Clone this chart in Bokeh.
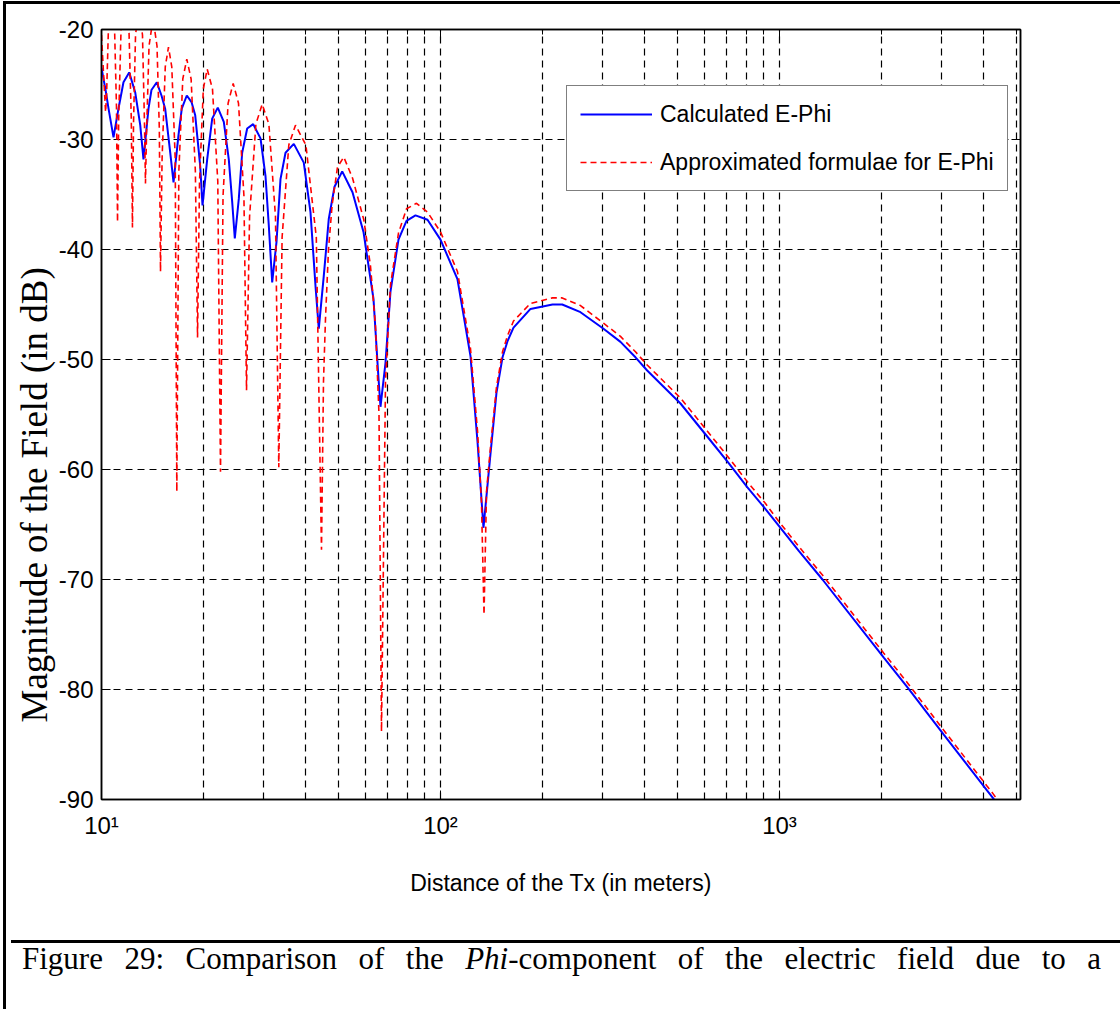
from bokeh.plotting import figure
from bokeh.layouts import column
from bokeh.models import (FixedTicker, LogAxis, LinearAxis, Legend, LegendItem,
                          Range1d, Title, Div)
from bokeh.embed import file_html
from bokeh.resources import INLINE

# ---------------- data ----------------
calc_dist = [10.00, 10.28, 10.49, 10.85, 11.22, 11.61, 12.07, 12.57, 13.01, 13.30,
             13.76, 14.04, 14.56, 15.03, 15.41, 15.95, 16.31, 16.87, 17.25, 17.85,
             18.43, 18.90, 19.55, 19.86, 20.50, 21.21, 22.03, 22.95, 23.74, 24.30,
             24.73, 25.41, 26.00, 26.90, 28.02, 29.45, 30.46, 31.15, 31.88, 32.83,
             33.73, 34.90, 36.92, 39.51, 41.35, 42.78, 43.75, 45.26, 46.83, 48.68,
             51.29, 55.01, 59.27, 63.44, 65.63, 66.53, 68.83, 71.21, 75.18, 79.38,
             84.38, 91.55, 100.0, 112.2, 122.6, 128.6, 133.9, 140.4, 146.3, 152.4,
             157.8, 164.2, 184.3, 214.0, 228.6, 258.8, 302.6, 339.6, 376.0, 407.1,
             510.5, 612.1, 707.2, 803.2, 909.4, 1000.0, 1140.0, 1339.0, 2031.0, 2386.0,
             3052.0, 4099.0, 4249.0, 4487.0]
calc_db = [-23.5, -25.5, -27.2, -29.8, -27.2, -24.8, -23.9, -25.7, -28.7, -31.8,
           -27.2, -25.5, -24.8, -26.0, -27.2, -31.2, -33.9, -29.6, -27.2, -26.0,
           -26.6, -27.8, -32.4, -36.0, -31.8, -28.1, -27.1, -28.4, -31.8, -35.7,
           -39.0, -35.4, -31.2, -29.0, -28.6, -29.9, -33.3, -37.8, -43.0, -39.3,
           -33.6, -31.2, -30.4, -32.1, -36.6, -43.3, -47.2, -42.4, -37.2, -34.3,
           -32.9, -34.8, -38.4, -44.5, -51.7, -54.3, -50.3, -43.8, -39.1, -37.4,
           -36.9, -37.3, -39.1, -42.7, -49.7, -57.5, -65.3, -58.6, -53.0, -49.8,
           -48.3, -47.1, -45.4, -45.0, -45.0, -45.7, -47.2, -48.4, -49.8, -51.0,
           -54.0, -57.0, -59.4, -61.6, -63.6, -65.2, -67.4, -70.0, -77.1, -79.8,
           -84.1, -89.2, -89.8, -90.8]

approx_dist = [10.00, 10.28, 10.35, 10.49, 10.70, 10.92, 11.07, 11.15, 11.24, 11.42,
               11.73, 12.05, 12.24, 12.34, 12.43, 12.60, 12.90, 13.21, 13.39, 13.48,
               13.59, 13.81, 14.19, 14.58, 14.81, 14.93, 15.09, 15.42, 15.76, 16.12,
               16.50, 16.68, 16.91, 17.37, 17.85, 18.38, 18.92, 19.20, 19.46, 19.97,
               20.50, 21.25, 22.03, 22.44, 22.83, 23.63, 24.46, 25.36, 26.31, 26.78,
               27.34, 28.54, 29.79, 31.17, 32.60, 33.34, 34.10, 35.69, 37.35, 40.08,
               43.02, 44.56, 45.17, 45.79, 46.73, 47.92, 49.68, 51.85, 55.01, 59.40,
               62.16, 64.31, 65.86, 66.98, 68.83, 71.21, 75.18, 79.38, 84.96, 91.55,
               100.0, 112.2, 122.6, 128.6, 132.1, 134.4, 136.7, 140.4, 146.3, 152.4,
               157.8, 164.2, 184.3, 214.0, 228.6, 258.8, 302.6, 339.6, 376.0, 407.1,
               510.5, 612.1, 707.2, 803.2, 909.4, 1000.0, 1140.0, 1339.0, 2031.0, 2386.0,
               3052.0, 4099.0, 4249.0, 4487.0]
approx_db = [-20.5, -27.5, -26.0, -19.5, -17.0, -19.5, -27.0, -37.5, -28.0, -20.0,
             -17.5, -20.0, -28.0, -38.0, -28.5, -20.5, -18.0, -20.5, -28.5, -34.0,
             -29.0, -21.5, -19.0, -21.5, -29.0, -42.0, -31.8, -23.4, -21.6, -23.4,
             -31.8, -62.0, -32.9, -24.5, -22.7, -24.5, -32.9, -48.0, -33.8, -25.4,
             -23.6, -25.4, -33.8, -60.2, -35.1, -26.7, -24.9, -26.7, -35.1, -52.8,
             -37.0, -28.6, -26.8, -28.6, -37.0, -59.8, -38.9, -30.5, -28.7, -30.5,
             -38.9, -67.3, -52.0, -46.3, -40.0, -35.9, -32.5, -31.6, -33.5, -37.3,
             -41.5, -47.0, -55.0, -83.8, -52.0, -43.2, -38.5, -36.3, -35.8, -36.6,
             -38.4, -42.0, -49.0, -56.5, -63.0, -73.2, -62.0, -58.0, -52.5, -49.3,
             -47.8, -46.5, -44.9, -44.4, -44.4, -45.1, -46.7, -47.9, -49.3, -50.5,
             -53.5, -56.5, -58.9, -61.1, -63.1, -64.8, -67.0, -69.6, -76.7, -79.4,
             -83.7, -88.8, -89.4, -90.4]

x_major_ticks = [10, 100, 1000]
x_minor_ticks = [20, 30, 40, 50, 60, 70, 80, 90,
                 200, 300, 400, 500, 600, 700, 800, 900,
                 2000, 3000, 4000, 5000]
x_tick_labels = {10: "10\u00b9", 100: "10\u00b2", 1000: "10\u00b3"}
y_ticks = [-90, -80, -70, -60, -50, -40, -30, -20]
y_tick_labels = {-90: "-90", -80: "-80", -70: "-70", -60: "-60",
                 -50: "-50", -40: "-40", -30: "-30", -20: "-20"}

series_names = ["Calculated E-Phi", "Approximated formulae for E-Phi"]
x_title = "Distance of the Tx (in meters)"
y_title = "Magnitude of the Field (in dB)"
caption_before = "Figure 29: Comparison of the"
caption_italic = "Phi"
caption_after = "-component of the electric field due to a"

# ---------------- figure ----------------
SANS = "Liberation Sans"
SERIF = "Liberation Serif"

PAGE_X, PAGE_Y = 6, 4                 # where the figure canvas starts on the page
FL, FR = 101 - PAGE_X, 100
FT = 29 - PAGE_Y
FH = 770
FW = 919
W = FL + FW + FR                      # 1114
H = 935 - PAGE_Y                      # figure ends at the caption rule
FB = H - FT - FH

p = figure(width=W, height=H, x_axis_type="log",
           x_range=Range1d(10, 5140), y_range=Range1d(-90, -20),
           output_backend="svg", toolbar_location=None,
           min_border_left=FL, min_border_right=FR, min_border_top=FT,
           min_border_bottom=FB)
p.background_fill_color = "white"
p.border_fill_color = "white"
p.outline_line_color = "black"
p.outline_line_width = 1.5

xt = FixedTicker(ticks=x_major_ticks, minor_ticks=x_minor_ticks)
yt = FixedTicker(ticks=y_ticks, minor_ticks=[])

def style_axis(ax, labels=True):
    ax.major_tick_in = 9
    ax.major_tick_out = 0
    ax.minor_tick_in = 5
    ax.minor_tick_out = 0
    ax.axis_line_color = "black"
    ax.axis_line_width = 1.5
    ax.major_tick_line_color = "black"
    ax.minor_tick_line_color = "black"
    ax.major_label_text_font = SANS
    if labels:
        ax.major_label_text_color = "black"
        ax.major_label_text_font_size = "24px"
    else:
        ax.major_label_text_alpha = 0
        ax.major_label_text_font_size = "2px"
        ax.major_label_standoff = 0
    ax.axis_label_text_font = SANS
    ax.axis_label_text_font_style = "normal"

xa = p.xaxis[0]
xa.ticker = xt
style_axis(xa)
xa.major_label_overrides = x_tick_labels
xa.major_label_standoff = 12
xa.axis_label = x_title
xa.axis_label_text_font_size = "23px"
xa.axis_label_text_color = "black"
xa.axis_label_standoff = 28

ya = p.yaxis[0]
ya.ticker = yt
style_axis(ya)
ya.major_label_overrides = y_tick_labels
ya.major_label_standoff = 8

top_ax = LogAxis(ticker=xt)
style_axis(top_ax, labels=False)
p.add_layout(top_ax, "above")
right_ax = LinearAxis(ticker=yt)
style_axis(right_ax, labels=False)
p.add_layout(right_ax, "right")

for g, t in ((p.xgrid[0], xt), (p.ygrid[0], yt)):
    g.ticker = t
    g.grid_line_color = "black"
    g.grid_line_dash = "7 5"
    g.grid_line_width = 1.2
    g.minor_grid_line_color = "black"
    g.minor_grid_line_dash = "7 5"
    g.minor_grid_line_width = 1.2

r_calc = p.line(calc_dist, calc_db, line_color="#0000ff", line_width=2)
r_appr = p.line(approx_dist, approx_db, line_color="#ff0000", line_width=1.6,
                line_dash="6 4")

legend = Legend(items=[LegendItem(label=series_names[0], renderers=[r_calc]),
                       LegendItem(label=series_names[1], renderers=[r_appr])],
                location=(566 - 101, 799 - 191))
legend.label_text_font = SANS
legend.label_text_font_size = "23px"
legend.label_text_color = "black"
legend.glyph_width = 72
legend.glyph_height = 30
legend.label_height = 30
legend.label_standoff = 8
legend.spacing = 18
legend.padding = 13
legend.margin = 0
legend.border_line_color = "black"
legend.border_line_width = 1
legend.background_fill_color = "white"
legend.background_fill_alpha = 1
p.add_layout(legend)

# y axis title: starts 77 px above the frame bottom, as in the original
p.add_layout(Title(text=y_title, align="left", offset=77, standoff=2,
                   text_font=SERIF, text_font_size="37px",
                   text_font_style="normal", text_color="black"), "left")

caption_html = (
    "<div style=\"display: block; width: 1079px; margin-left: 11px; "
    "font-family: 'Liberation Serif', serif; font-size: 31px; "
    "color: black; text-align: justify; text-align-last: justify; "
    "padding: 0; line-height: 1.0; white-space: nowrap;\">"
    + caption_before + " <i>" + caption_italic + "</i>" + caption_after + "</div>"
)
cap = Div(text=caption_html, width=W, height=1009 - 935 - 3,
          styles={"border-top": "3px solid black"})

page = column(p, cap, spacing=0,
              styles={"border-left": "3px solid black", "border-top": "3px solid black",
                      "margin-left": "3px", "margin-top": "1px"})

open("out.html", "w").write(file_html(page, INLINE))
